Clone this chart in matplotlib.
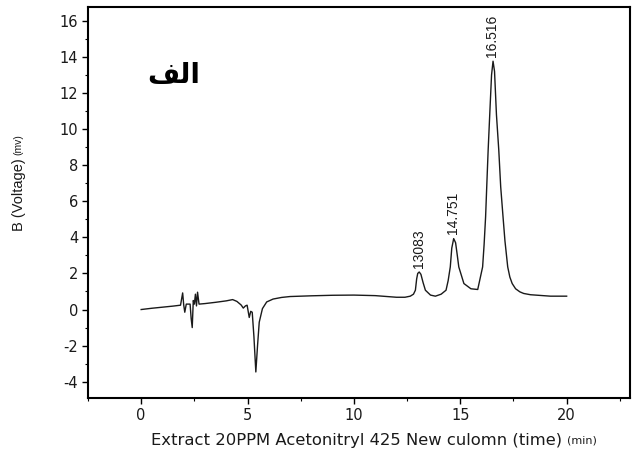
import matplotlib
matplotlib.use("Agg")
import matplotlib.pyplot as plt
from matplotlib.ticker import MultipleLocator

# chromatogram trace
time_min = [0.0, 0.5, 1.0, 1.5, 1.85, 1.95, 2.0, 2.05, 2.12, 2.3, 2.35, 2.4, 2.45, 2.5,
            2.55, 2.6, 2.65, 2.72, 3.0, 3.5, 4.0, 4.3, 4.5, 4.7, 4.8, 4.9, 4.98, 5.08,
            5.15, 5.22, 5.3, 5.39, 5.47, 5.55, 5.7, 5.9, 6.2, 6.6, 7.0, 8.0, 9.0, 10.0,
            11.0, 12.0, 12.4, 12.65, 12.8, 12.89, 12.95, 13.0, 13.07, 13.15, 13.25, 13.36,
            13.6, 13.83, 14.1, 14.33, 14.43, 14.53, 14.6, 14.69, 14.78, 14.86, 14.93,
            15.17, 15.5, 15.82, 16.05, 16.12, 16.19, 16.25, 16.31, 16.4, 16.47, 16.54,
            16.61, 16.7, 16.81, 16.9, 17.01, 17.1, 17.23, 17.33, 17.44, 17.6, 17.8,
            17.98, 18.3, 19.24, 20.0]
voltage = [0.0, 0.07, 0.13, 0.19, 0.24, 0.92, 0.25, -0.15, 0.3, 0.3, -0.5, -1.0, 0.5, 0.3,
           0.85, 0.2, 0.96, 0.3, 0.33, 0.4, 0.48, 0.55, 0.45, 0.25, 0.08, 0.2, 0.24, -0.44,
           -0.1, -0.15, -1.5, -3.46, -2.0, -0.7, 0.05, 0.42, 0.58, 0.67, 0.72, 0.76, 0.79, 0.8,
           0.77, 0.68, 0.68, 0.74, 0.85, 1.07, 1.7, 2.0, 2.08, 1.95, 1.5, 1.07,
           0.8, 0.74, 0.85, 1.07, 1.6, 2.36, 3.4, 3.93, 3.7, 3.0, 2.36,
           1.44, 1.15, 1.11, 2.36, 3.6, 5.13, 7.0, 8.83, 11.2, 13.0, 13.76,
           13.2, 10.8, 8.83, 6.8, 5.13, 3.8, 2.36, 1.8, 1.44, 1.15, 0.98,
           0.89, 0.82, 0.74, 0.74]

peak_times = [13.07, 14.69, 16.54]
peak_heights = [2.08, 3.93, 13.76]
peak_labels = ["13083", "14.751", "16.516"]

plt.rcParams['font.family'] = ['Liberation Sans', 'DejaVu Sans']
plt.rcParams['axes.unicode_minus'] = False

ink = '#1a1a1a'
fig = plt.figure(figsize=(6.33, 4.59), dpi=100)
ax = fig.add_axes([0.139, 0.133, 0.857, 0.852])

ax.plot(time_min, voltage, color=ink, lw=1.0)

for t, v, lab in zip(peak_times, peak_heights, peak_labels):
    ax.annotate(lab, (t, v), xytext=(-0.5, 3), textcoords='offset points',
                rotation=90, ha='center', va='bottom', fontsize=10, color=ink)

ax.set_xlim(-2.5, 23)
ax.set_ylim(-4.9, 16.77)
ax.xaxis.set_major_locator(MultipleLocator(5))
ax.xaxis.set_minor_locator(MultipleLocator(2.5))
ax.yaxis.set_major_locator(MultipleLocator(2))
ax.yaxis.set_minor_locator(MultipleLocator(1))
ax.tick_params(which='major', direction='out', length=4, width=1, labelsize=10.5,
               pad=3, labelcolor=ink)
ax.tick_params(which='minor', direction='out', length=2.5, width=0.8)
for lab in ax.get_xticklabels() + ax.get_yticklabels():
    lab.set_family('DejaVu Sans')
for s in ax.spines.values():
    s.set_linewidth(1.5)

xl = ax.set_xlabel("Extract 20PPM Acetonitryl 425 New culomn (time)", fontsize=11.8,
                   color=ink, family='DejaVu Sans')
ax.xaxis.set_label_coords(0.496, -0.09)
yl = ax.set_ylabel("B (Voltage)", fontsize=10.5, color=ink)
ax.yaxis.set_label_coords(-0.115, 0.52)

# Arabic label, glyphs given in presentation forms (visual order)
ax.text(0.158, 0.825, "\ufed2\ufedf\ufe8d", transform=ax.transAxes, fontsize=20,
        fontweight='bold', family=['DejaVu Sans'], ha='center', va='center')

# small unit texts placed right after the axis labels
fig.canvas.draw()
r = fig.canvas.get_renderer()
bx = xl.get_window_extent(r)
fig.text((bx.x1 + 4) / fig.bbox.width, (bx.y0 + bx.y1) / 2 / fig.bbox.height, "(min)",
         fontsize=8, color=ink, va='center', ha='left', family='DejaVu Sans')
by = yl.get_window_extent(r)
fig.text((by.x0 + by.x1) / 2 / fig.bbox.width, (by.y1 + 3) / fig.bbox.height, "(mv)",
         fontsize=7.5, color=ink, va='bottom', ha='center', rotation=90)

fig.savefig("out.png", dpi=100)
